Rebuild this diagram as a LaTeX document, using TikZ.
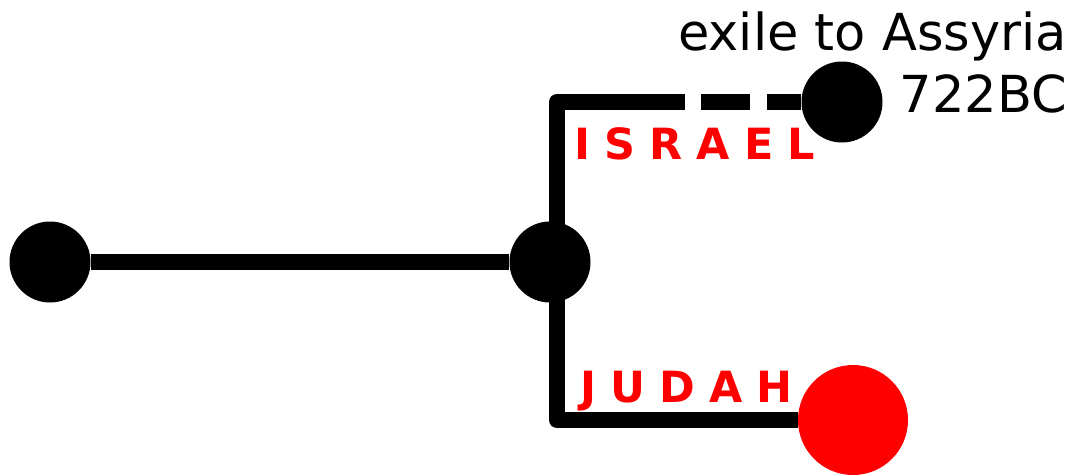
\documentclass[tikz,border=0pt]{standalone}
\usepackage{fontspec}
\setmainfont{DejaVu Sans}
\usepackage{tikz}

\begin{document}
\begin{tikzpicture}[x=1pt, y=-1pt,
    dot/.style={circle, fill=black, inner sep=0pt, minimum size=81pt},
    branch/.style={line width=16pt, line join=round},
    tribe/.style={text=red, inner sep=0pt, anchor=base west, font=\fontsize{43}{50}\selectfont\bfseries\addfontfeature{LetterSpace=33}}]
    \useasboundingbox (0,0) rectangle (1079,475);

    \node[dot] (start) at (50,262) {};
    \node[dot] (split) at (550,262) {};
    \node[dot] (israelend) at (842,102) {};
    \node[dot, fill=red, minimum size=110pt] (judahend) at (853,420) {};

    \coordinate (israelcorner) at (557,102);
    \coordinate (judahcorner) at (557,420);

    \draw[branch] (start) -- (split);
    \draw[branch, dash pattern=on 288pt off 16pt on 49pt off 17pt on 400pt] (split.center -| israelcorner) -- (israelcorner) -- (israelend);
    \draw[branch] (split.center -| judahcorner) -- (judahcorner) -- (judahend);

    \node[tribe] (israel) at (574,159) {ISRAEL};
    \node[tribe] (judah) at (580,402) {JUDAH};

    \node[inner sep=0pt, anchor=base east, align=right, font=\fontsize{51}{62}\selectfont] (exile) at (1067,112) {exile to Assyria\\722BC};
\end{tikzpicture}
\end{document}
